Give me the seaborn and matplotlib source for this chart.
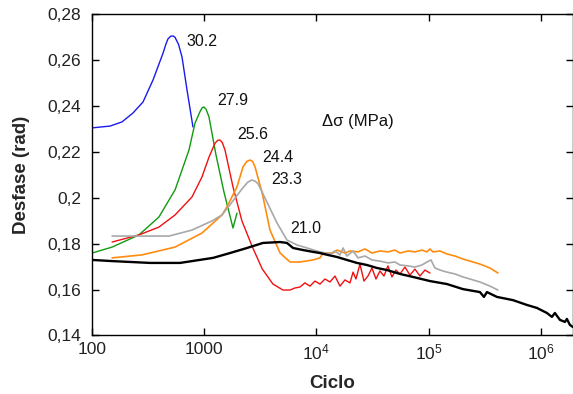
import numpy as np
import pandas as pd
import matplotlib
matplotlib.use("Agg")
import matplotlib.pyplot as plt
import matplotlib.ticker as mticker
import seaborn as sns

# -------------------------------
# Data (cycles, phase lag in rad)
# -------------------------------
cyc_302 = [100, 145, 185, 232, 285, 350, 430, 455, 476, 506, 530, 550, 590,
           634, 703, 794]
phi_302 = [0.2304, 0.2312, 0.2330, 0.2369, 0.2417, 0.2513, 0.2630, 0.2668,
           0.2692, 0.2704, 0.2704, 0.2698, 0.2668, 0.2613, 0.2469, 0.2308]

cyc_279 = [100, 151, 262, 395, 550, 732, 828, 918, 960, 995, 1040, 1104,
           1274, 1500, 1663, 1806, 1959]
phi_279 = [0.1759, 0.1785, 0.1838, 0.1916, 0.2034, 0.2208, 0.2325, 0.2375,
           0.2392, 0.2395, 0.2385, 0.2351, 0.2186, 0.2025, 0.1938, 0.1868,
           0.1933]

cyc_256 = [151, 262, 395, 550, 778, 955, 1104, 1248, 1320, 1383, 1450, 1532,
           1806, 2170, 2665, 3290, 4100, 5035,
           5820, 6450, 7140, 7910, 8770, 9720, 10770, 11930, 13220, 14650,
           16230, 17980, 19930, 21240, 22540, 24460, 26560, 28840, 31300,
           33980, 36880, 40050, 43460, 47190, 51220, 55600, 61610, 68270,
           75660, 83830, 92890, 102900]
phi_256 = [0.1807, 0.1838, 0.1872, 0.1925, 0.2003, 0.2090, 0.2177, 0.2237,
           0.2250, 0.2251, 0.2240, 0.2208, 0.2047, 0.1899, 0.1790, 0.1690,
           0.1624, 0.1598,
           0.1598, 0.1607, 0.1611, 0.1629, 0.1615, 0.1637, 0.1624, 0.1646,
           0.1633, 0.1659, 0.1615, 0.1642, 0.1629, 0.1676, 0.1646, 0.1711,
           0.1637, 0.1659, 0.1694, 0.1646, 0.1681, 0.1659, 0.1703, 0.1655,
           0.1685, 0.1668, 0.1698, 0.1663, 0.1689, 0.1659, 0.1685, 0.1672]

cyc_244 = [151, 279, 550, 955, 1201, 1442, 1595, 1959, 2218, 2400, 2563,
           2700, 2840, 3290, 3860, 4750, 5820, 7140, 9370, 10770, 11480,
           14110, 15260, 17980, 19930, 23500, 27110, 31300, 36880, 43460,
           50180, 55600, 65530, 75660, 87350, 96760, 102900, 109400, 126400,
           145900, 171900, 202600, 233900, 287200, 352600, 415500]
phi_244 = [0.1738, 0.1751, 0.1785, 0.1846, 0.1890, 0.1925, 0.1960, 0.2047,
           0.2134, 0.2158, 0.2164, 0.2158, 0.2134, 0.2020, 0.1859, 0.1759,
           0.1720, 0.1720, 0.1729, 0.1738, 0.1759, 0.1759, 0.1772, 0.1759,
           0.1768, 0.1764, 0.1777, 0.1759, 0.1768, 0.1764, 0.1772, 0.1759,
           0.1768, 0.1764, 0.1772, 0.1764, 0.1777, 0.1764, 0.1768, 0.1755,
           0.1746, 0.1733, 0.1724, 0.1711, 0.1694, 0.1672]

cyc_233 = [151, 268, 485, 778, 1175, 1442, 1770, 2170, 2450, 2665, 2850,
           3030, 3625, 4460, 5460, 6730, 8270, 10770, 13220, 14650, 16230,
           17300, 18700, 21240, 23500, 27110, 31300, 36880, 43460, 50180,
           55600, 65530, 75660, 87350, 96760, 105050, 114000, 126400, 145900,
           171900, 202600, 233900, 287200, 352600, 415500]
phi_233 = [0.1833, 0.1833, 0.1833, 0.1859, 0.1899, 0.1925, 0.1981, 0.2038,
           0.2068, 0.2077, 0.2072, 0.2060, 0.1981, 0.1890, 0.1816, 0.1794,
           0.1781, 0.1764, 0.1755, 0.1768, 0.1751, 0.1781, 0.1746, 0.1768,
           0.1738, 0.1746, 0.1729, 0.1724, 0.1716, 0.1720, 0.1707, 0.1703,
           0.1698, 0.1707, 0.1720, 0.1729, 0.1694, 0.1685, 0.1676, 0.1668,
           0.1655, 0.1646, 0.1633, 0.1615, 0.1598]

cyc_210 = [100, 151, 329, 609, 1201, 1697, 2405, 3342, 4750, 5470, 6200,
           7620, 9370, 10770, 12580, 15260, 18700, 23010, 28220, 34680,
           42580, 55600, 72610, 102900, 145900, 202600, 287200, 311800,
           331500, 407100, 565200, 753400, 925000, 1136000, 1259000,
           1338000, 1483000, 1643000, 1712000, 1821000, 1936000]
phi_210 = [0.1729, 0.1724, 0.1716, 0.1716, 0.1738, 0.1759, 0.1781, 0.1803,
           0.1807, 0.1803, 0.1781, 0.1772, 0.1764, 0.1759, 0.1751, 0.1742,
           0.1729, 0.1716, 0.1707, 0.1694, 0.1685, 0.1668, 0.1655, 0.1637,
           0.1624, 0.1602, 0.1589, 0.1568, 0.1589, 0.1568, 0.1554, 0.1533,
           0.1520, 0.1498, 0.1481, 0.1498, 0.1468, 0.1459, 0.1472, 0.1446,
           0.1437]

series = ["30.2", "27.9", "25.6", "24.4", "23.3", "21.0"]
colors = ["#1a1aee", "#109a10", "#f01010", "#ff8c10", "#a8a8a8", "#000000"]
widths = [1.0, 1.0, 1.0, 1.2, 1.2, 1.7]

# label anchor points (left edge, centre) in data units
lab_x = [688, 1300, 1959, 3290, 3940, 5820]
lab_y = [0.2682, 0.2425, 0.2277, 0.2177, 0.2081, 0.1864]

x_ticks = [100, 1000, 1e4, 1e5, 1e6]
x_ticklabels = ["100", "1000", "$10^4$", "$10^5$", "$10^6$"]
y_ticks = [0.14, 0.16, 0.18, 0.20, 0.22, 0.24, 0.26, 0.28]
y_ticklabels = ["0,14", "0,16", "0,18", "0,2", "0,22", "0,24", "0,26", "0,28"]

data = pd.concat([
    pd.DataFrame({"Ciclo": c, "Desfase": p, "serie": s})
    for c, p, s in zip([cyc_302, cyc_279, cyc_256, cyc_244, cyc_233, cyc_210],
                       [phi_302, phi_279, phi_256, phi_244, phi_233, phi_210],
                       series)
], ignore_index=True)

sns.set_theme(style="ticks")
plt.rcParams["font.family"] = ["Liberation Sans", "DejaVu Sans"]
plt.rcParams["mathtext.fontset"] = "custom"
plt.rcParams["mathtext.rm"] = "Liberation Sans"
plt.rcParams["mathtext.it"] = "Liberation Sans:italic"
plt.rcParams["mathtext.bf"] = "Liberation Sans:bold"

fig = plt.figure(figsize=(5.73, 3.94), dpi=100)
ax = fig.add_axes([0.1606, 0.1485, 0.8394, 0.816])

for s, col, lw in zip(series, colors, widths):
    sns.lineplot(data=data[data["serie"] == s], x="Ciclo", y="Desfase",
                 color=col, linewidth=lw, estimator=None, sort=False, ax=ax)

for s, tx, ty in zip(series, lab_x, lab_y):
    ax.text(tx, ty, s, fontsize=11.5, ha="left", va="center", color="#111111")
ax.text(11220, 0.2334, "Δσ (MPa)", fontsize=12, ha="left", va="center",
        color="#111111")

ax.set_xscale("log")
ax.set_xlim(100, 1.94e6)
ax.set_ylim(0.14, 0.28)
ax.xaxis.set_major_locator(mticker.FixedLocator(x_ticks))
ax.xaxis.set_major_formatter(mticker.FixedFormatter(x_ticklabels))
ax.xaxis.set_minor_locator(mticker.NullLocator())
ax.yaxis.set_major_locator(mticker.FixedLocator(y_ticks))
ax.yaxis.set_major_formatter(mticker.FixedFormatter(y_ticklabels))

ax.tick_params(axis="both", which="major", direction="in", length=5,
               width=1, color="black", labelsize=12.5, top=True, right=True,
               labelcolor="#222222")
ax.tick_params(axis="y", pad=8)
ax.tick_params(axis="x", pad=5)
for sp in ax.spines.values():
    sp.set_visible(True)
    sp.set_color("black")
    sp.set_linewidth(1.0)

ax.set_xlabel("Ciclo", fontsize=13.5, fontweight="bold", labelpad=9)
ax.set_ylabel("Desfase (rad)", fontsize=13.5, fontweight="bold", labelpad=12)

fig.savefig("out.png", dpi=100, facecolor="white")
plt.close(fig)
